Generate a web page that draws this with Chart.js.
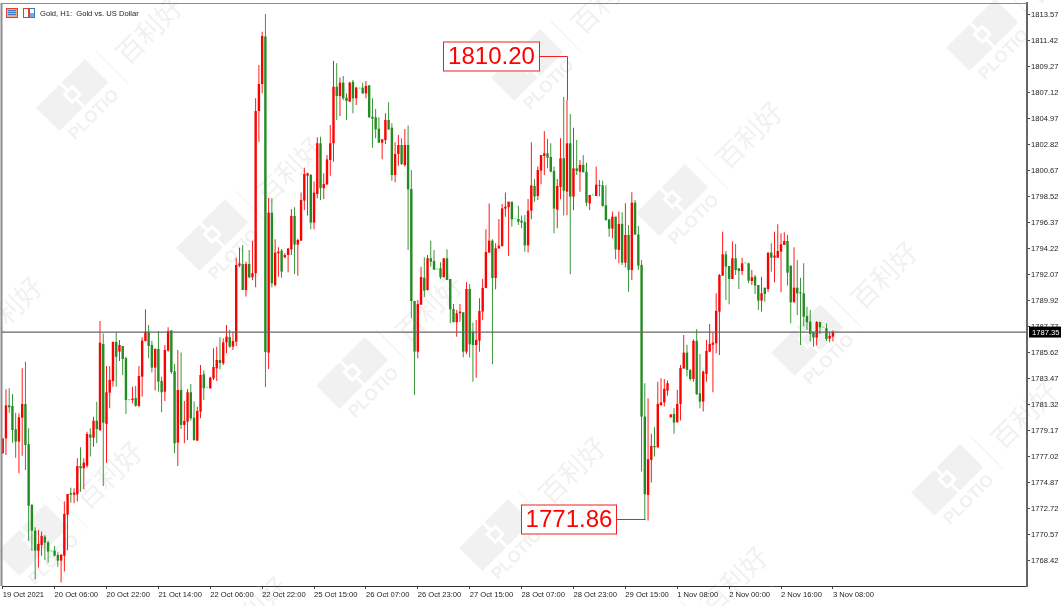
<!DOCTYPE html>
<html>
<head>
<meta charset="utf-8">
<title>Gold, H1</title>
<script src="https://cdn.jsdelivr.net/npm/chart.js@4"></script>
<style>
  html, body { margin: 0; padding: 0; background: #fff; }
  #wrap { width: 1061px; height: 606px; }
</style>
</head>
<body>
<div id="wrap"><canvas id="goldChart" width="1061" height="606"></canvas></div>
<script>
// hourly candles
const opens = [
  1777.32,1778.56,1781.29,1781.24,1779.31,1778.29,1780.27,1781.40,1778.07,1773.05,
  1770.93,1769.27,1769.74,1770.43,1769.96,1769.23,1769.27,1768.92,1768.45,1768.86,
  1772.25,1774.02,1773.90,1773.93,1776.27,1776.08,1776.30,1778.87,1778.62,1780.02,
  1779.25,1786.36,1779.75,1782.34,1783.30,1786.53,1785.73,1786.20,1785.18,1781.73,
  1781.73,1781.90,1781.24,1783.66,1786.61,1787.38,1786.28,1784.41,1785.95,1783.30,
  1782.42,1785.81,1787.47,1784.10,1778.21,1782.56,1779.67,1779.94,1782.37,1780.27,
  1778.37,1780.77,1783.86,1782.75,1782.70,1783.52,1784.35,1785.04,1784.77,1786.50,
  1786.94,1786.14,1786.56,1792.84,1792.98,1790.83,1792.98,1791.88,1792.21,1805.63,
  1807.86,1811.78,1785.65,1797.22,1791.24,1793.86,1794.08,1793.53,1793.72,1794.19,
  1796.95,1794.58,1794.91,1798.22,1800.28,1800.34,1796.40,1798.77,1802.96,1799.24,
  1799.57,1801.58,1802.96,1807.64,1806.87,1807.97,1806.73,1806.40,1808.05,1806.68,
  1807.48,1807.56,1807.09,1807.75,1805.16,1805.11,1804.17,1803.01,1803.23,1804.89,
  1804.25,1800.34,1802.07,1802.82,1801.16,1802.82,1799.18,1789.92,1785.73,1789.62,
  1791.85,1790.83,1793.45,1793.23,1792.54,1792.62,1791.88,1793.45,1791.74,1789.26,
  1788.16,1788.90,1788.98,1785.73,1790.91,1787.39,1786.28,1786.64,1789.04,1791.00,
  1793.92,1794.91,1791.82,1794.28,1794.47,1797.56,1797.67,1798.13,1796.70,1796.70,
  1796.56,1796.45,1794.52,1797.39,1799.43,1798.60,1800.70,1801.91,1802.13,1801.83,
  1800.67,1797.47,1799.35,1801.72,1798.96,1802.96,1798.55,1800.89,1800.61,1801.17,
  1800.61,1798.00,1798.66,1798.60,1799.51,1799.48,1797.83,1796.67,1795.90,1796.89,
  1794.14,1796.29,1793.09,1795.38,1792.48,1798.05,1795.41,1792.90,1780.36,1773.88,
  1776.78,1777.93,1777.82,1781.32,1781.54,1782.51,1780.30,1780.58,1779.89,1781.41,
  1784.33,1785.65,1784.22,1783.47,1786.62,1782.29,1781.60,1783.89,1785.73,1786.29,
  1786.42,1789.04,1792.01,1793.78,1792.81,1791.74,1793.45,1792.62,1792.40,1793.03,
  1793.03,1791.57,1791.93,1791.24,1789.95,1791.02,1790.91,1793.92,1793.50,1793.50,
  1794.00,1794.55,1794.88,1792.84,1789.81,1791.02,1790.63,1790.55,1788.68,1788.21,
  1787.33,1786.89,1788.18,1787.71,1787.66,1786.81,1786.97
];
const highs = [
  1778.56,1782.61,1782.70,1782.23,1780.68,1780.63,1784.35,1784.90,1779.39,1773.13,
  1771.20,1770.98,1770.85,1770.57,1770.10,1769.27,1769.66,1769.14,1769.00,1773.33,
  1773.96,1774.48,1774.43,1776.91,1777.82,1776.91,1779.11,1779.39,1780.35,1781.59,
  1788.26,1787.24,1784.54,1784.54,1786.56,1787.38,1786.69,1786.20,1785.31,1781.80,
  1782.83,1782.89,1784.54,1786.92,1789.23,1787.93,1786.64,1786.01,1787.44,1783.66,
  1786.28,1787.74,1787.52,1784.71,1785.87,1785.65,1781.65,1782.64,1783.06,1781.60,
  1781.18,1784.63,1784.16,1782.80,1783.66,1786.01,1786.14,1786.92,1786.83,1787.93,
  1787.52,1787.38,1793.50,1794.33,1794.55,1793.17,1794.14,1794.91,1806.68,1809.43,
  1812.19,1813.65,1798.44,1798.41,1795.02,1794.36,1794.22,1793.86,1794.30,1797.53,
  1797.66,1795.07,1798.90,1800.94,1800.53,1800.42,1799.79,1803.45,1803.51,1800.48,
  1801.99,1804.47,1809.79,1809.57,1808.39,1808.52,1807.09,1808.05,1808.19,1807.64,
  1807.52,1807.97,1808.11,1807.78,1806.68,1805.79,1805.11,1803.29,1805.44,1806.35,
  1804.61,1803.04,1803.64,1803.37,1804.14,1804.42,1800.75,1789.92,1790.00,1792.76,
  1793.53,1793.72,1794.91,1794.14,1792.57,1793.12,1793.45,1794.19,1791.74,1789.67,
  1789.18,1789.67,1788.98,1791.46,1791.33,1788.13,1788.35,1790.14,1791.74,1795.85,
  1797.98,1795.02,1794.69,1796.70,1797.94,1798.88,1798.13,1798.13,1796.73,1797.80,
  1796.98,1797.03,1798.35,1803.04,1800.01,1801.03,1801.99,1803.98,1803.32,1802.96,
  1801.03,1800.01,1803.37,1806.79,1806.54,1805.38,1804.25,1803.23,1801.58,1801.99,
  1801.36,1798.69,1798.69,1801.03,1799.93,1799.87,1799.48,1796.67,1797.31,1796.89,
  1797.31,1797.25,1798.00,1796.20,1798.91,1798.27,1796.12,1793.31,1783.12,1781.88,
  1778.93,1779.48,1783.25,1783.53,1783.47,1783.34,1780.58,1781.05,1782.57,1784.63,
  1787.11,1786.29,1784.27,1786.75,1787.58,1785.54,1784.16,1786.70,1788.02,1787.31,
  1790.56,1792.16,1795.65,1794.05,1792.81,1794.83,1794.63,1792.62,1793.50,1793.06,
  1793.09,1792.48,1792.07,1791.24,1791.93,1791.02,1793.92,1794.69,1795.65,1796.26,
  1795.51,1795.60,1795.38,1792.84,1794.36,1793.31,1791.85,1793.03,1789.45,1789.18,
  1787.38,1788.27,1788.21,1787.74,1788.07,1787.38,1787.47
];
const lows = [
  1777.27,1777.18,1780.68,1778.20,1776.96,1775.67,1777.13,1775.94,1770.10,1769.27,
  1766.90,1767.87,1768.86,1768.50,1768.28,1769.14,1768.78,1767.95,1766.63,1767.54,
  1769.33,1773.24,1773.19,1773.33,1774.15,1774.37,1776.14,1777.05,1777.87,1778.15,
  1779.17,1774.62,1776.55,1781.04,1782.83,1782.83,1784.96,1783.80,1780.57,1781.66,
  1781.46,1781.18,1781.13,1782.01,1786.56,1785.18,1784.00,1782.51,1782.42,1780.71,
  1781.65,1785.73,1783.88,1777.32,1776.28,1779.34,1778.15,1778.43,1780.03,1778.37,
  1778.37,1780.22,1781.73,1782.70,1782.67,1783.39,1783.30,1784.27,1784.63,1785.59,
  1786.06,1785.87,1786.20,1792.70,1790.83,1790.28,1791.79,1791.65,1791.05,1803.09,
  1807.09,1782.81,1784.30,1791.05,1791.11,1791.93,1791.85,1793.45,1792.29,1793.72,
  1792.15,1792.01,1794.91,1797.44,1796.98,1795.85,1795.85,1798.41,1798.27,1798.35,
  1799.51,1800.28,1801.44,1804.89,1805.22,1806.54,1804.89,1806.40,1805.44,1806.13,
  1807.44,1807.03,1806.68,1805.08,1802.60,1803.37,1803.01,1801.63,1802.90,1804.06,
  1799.87,1799.73,1801.11,1801.16,1801.03,1794.14,1788.49,1782.15,1785.18,1789.59,
  1790.22,1790.78,1792.76,1792.48,1792.51,1791.74,1791.88,1791.66,1788.07,1788.16,
  1786.97,1788.21,1785.26,1785.54,1785.24,1783.25,1783.58,1785.73,1788.35,1790.97,
  1793.92,1784.68,1790.89,1794.22,1794.41,1796.89,1793.64,1796.07,1796.67,1796.20,
  1795.93,1794.00,1793.92,1796.67,1798.13,1798.27,1799.57,1800.34,1800.89,1800.56,
  1795.52,1795.93,1798.33,1796.98,1797.00,1792.13,1797.45,1800.34,1798.96,1800.56,
  1797.78,1797.45,1798.63,1798.60,1798.55,1797.72,1796.56,1795.24,1795.10,1793.37,
  1793.04,1792.90,1792.68,1790.69,1791.66,1795.38,1792.48,1775.81,1771.87,1771.76,
  1774.90,1777.05,1777.74,1781.24,1781.19,1782.10,1780.28,1778.93,1779.86,1780.03,
  1784.33,1783.67,1783.34,1783.25,1782.15,1781.05,1780.77,1783.25,1785.68,1782.37,
  1785.60,1785.46,1792.01,1790.00,1789.64,1791.74,1792.07,1790.91,1792.07,1793.00,
  1791.38,1791.24,1790.50,1789.18,1789.04,1789.86,1790.69,1792.34,1791.46,1793.50,
  1790.64,1794.55,1791.19,1788.07,1789.81,1788.76,1786.28,1787.80,1787.52,1786.56,
  1786.14,1786.23,1787.19,1787.68,1786.61,1786.50,1786.56
];
const closes = [
  1778.56,1781.29,1781.13,1779.25,1778.29,1780.30,1781.40,1778.01,1772.99,1770.93,
  1769.27,1769.83,1770.49,1769.94,1769.19,1769.23,1768.86,1768.45,1768.92,1772.31,
  1773.96,1773.90,1774.07,1776.27,1776.08,1776.55,1778.92,1778.62,1780.02,1779.33,
  1786.47,1779.86,1782.37,1783.39,1786.53,1785.31,1786.28,1785.12,1781.73,1781.73,
  1781.84,1781.26,1783.72,1786.64,1787.38,1786.20,1784.41,1785.95,1783.25,1782.37,
  1785.87,1787.44,1784.05,1778.15,1782.56,1779.67,1780.00,1782.37,1780.22,1778.43,
  1780.83,1783.80,1782.70,1782.75,1783.58,1784.46,1785.04,1784.79,1786.50,1786.97,
  1786.14,1786.61,1792.90,1793.03,1790.83,1792.98,1791.88,1792.21,1805.63,1807.86,
  1811.83,1785.70,1797.22,1791.38,1793.92,1794.00,1792.35,1793.72,1794.25,1796.95,
  1794.58,1794.96,1798.27,1800.42,1800.48,1796.40,1798.88,1802.96,1799.24,1799.59,
  1801.63,1802.96,1807.64,1806.87,1807.97,1806.68,1806.46,1807.97,1806.68,1807.56,
  1807.48,1807.09,1807.70,1805.11,1804.99,1804.11,1803.01,1803.29,1804.89,1804.11,
  1800.34,1802.07,1802.82,1801.25,1802.82,1799.15,1789.92,1785.73,1789.67,1791.91,
  1790.78,1793.45,1793.17,1792.51,1792.54,1791.88,1793.45,1791.66,1789.23,1788.16,
  1788.90,1789.04,1785.73,1790.91,1786.34,1786.28,1786.70,1789.09,1791.00,1793.97,
  1794.91,1791.82,1794.28,1794.50,1797.58,1797.72,1798.13,1796.67,1796.70,1796.48,
  1796.40,1794.52,1797.39,1799.48,1798.55,1800.75,1801.99,1802.13,1801.77,1800.61,
  1797.56,1799.43,1801.72,1799.04,1802.96,1798.55,1800.89,1800.67,1801.17,1800.56,
  1798.05,1798.69,1798.66,1799.54,1799.43,1797.78,1796.62,1795.90,1796.89,1794.19,
  1796.29,1793.09,1795.38,1792.48,1798.05,1795.41,1792.84,1780.36,1773.94,1776.83,
  1777.93,1777.82,1781.41,1781.54,1782.65,1783.12,1780.53,1779.86,1781.41,1784.38,
  1785.65,1784.22,1783.47,1786.62,1782.21,1781.60,1784.08,1785.79,1786.37,1786.48,
  1789.10,1792.07,1793.78,1792.76,1791.74,1793.45,1792.48,1792.40,1793.03,1793.03,
  1791.60,1791.88,1791.19,1789.95,1790.55,1790.50,1793.92,1793.50,1793.67,1794.05,
  1794.60,1794.88,1792.26,1789.81,1791.02,1790.55,1790.55,1788.62,1788.16,1787.19,
  1786.89,1788.18,1787.74,1787.71,1786.78,1787.03,1787.38
];

// axis ticks
const xTickBars = [0,16,32,48,64,80,96,112,128,144,160,176,192,208,224,240,256];
const xTickLabels = ["19 Oct 2021","20 Oct 06:00","20 Oct 22:00","21 Oct 14:00","22 Oct 06:00","22 Oct 22:00",
  "25 Oct 15:00","26 Oct 07:00","26 Oct 23:00","27 Oct 15:00","28 Oct 07:00","28 Oct 23:00","29 Oct 15:00",
  "1 Nov 08:00","2 Nov 00:00","2 Nov 16:00","3 Nov 08:00"];
const yTicks = [1813.57,1811.42,1809.27,1807.12,1804.97,1802.82,1800.67,1798.52,1796.37,1794.22,1792.07,
  1789.92,1787.77,1785.62,1783.47,1781.32,1779.17,1777.02,1774.87,1772.72,1770.57,1768.42];

const lastPrice = 1787.35;
const highNote = 1810.20, highNoteBar = 174;
const lowNote = 1771.86, lowNoteBar = 198;

const UP = "#ff0000", DOWN = "#228b22", DOJI = "#66ff66";
const AXIS_FONT = { family: "'Liberation Sans', Arial, sans-serif", size: 7.6 };

function candleColor(i) {
  if (closes[i] > opens[i]) return UP;
  if (closes[i] < opens[i]) return DOWN;
  return DOJI;
}
const candleColors = opens.map((o, i) => candleColor(i));

// faint company marks behind the candles
function drawWatermarks(ctx) {
  const marks = [[75,100],[215,240],[355,378],[498,540],[530,70],[675,205],[810,345],[950,485],
    [985,40],[35,545],[-65,380],[660,650],[180,680],[-45,-30]];
  marks.forEach(function (m) {
    ctx.save();
    ctx.translate(m[0], m[1]);
    ctx.rotate(-Math.PI / 4);
    ctx.fillStyle = "#f1f1f1";
    ctx.fillRect(-33, -22, 33, 33);
    ctx.fillRect(3, -22, 33, 33);
    ctx.fillStyle = "#fff";
    ctx.fillRect(-5, -13, 14, 14);
    ctx.fillStyle = "#f1f1f1";
    ctx.fillRect(-2, -10, 8, 8);
    ctx.font = "bold 17px 'Liberation Sans', Arial, sans-serif";
    ctx.textAlign = "center";
    ctx.textBaseline = "middle";
    ctx.fillText("PLOTIO", 3, 24);
    ctx.strokeStyle = "#f1f1f1";
    ctx.lineWidth = 1;
    ctx.beginPath();
    ctx.moveTo(49, -20);
    ctx.lineTo(49, 26);
    ctx.stroke();
    ctx.font = "27px 'Noto Sans CJK SC', sans-serif";
    ctx.fillText("百利好", 102, 3);
    ctx.restore();
  });
}

function drawIcons(ctx) {
  ctx.fillStyle = "#f4a58a";
  ctx.fillRect(6, 8, 12, 10);
  ctx.strokeStyle = "#d9432f";
  ctx.lineWidth = 1;
  ctx.strokeRect(6.5, 8.5, 11, 9);
  ctx.fillStyle = "#3b78c4";
  ctx.fillRect(8, 10, 8, 1);
  ctx.fillRect(8, 12, 8, 1);
  ctx.fillRect(8, 14, 8, 1);
  ctx.fillStyle = "#fff";
  ctx.fillRect(23, 8, 12, 10);
  ctx.strokeStyle = "#d9432f";
  ctx.strokeRect(23.5, 8.5, 5, 9);
  ctx.strokeStyle = "#3b78c4";
  ctx.strokeRect(29.5, 8.5, 5, 9);
  ctx.fillStyle = "#7aa7dd";
  ctx.fillRect(30, 13, 4, 4);
}

// boxed price label with an elbow line running to its candle
function drawNote(ctx, text, left, right, boxY, x, y, endY) {
  ctx.strokeStyle = "#f02020";
  ctx.lineWidth = 1;
  ctx.beginPath();
  ctx.moveTo(right, y);
  ctx.lineTo(x, y);
  ctx.lineTo(x, endY);
  ctx.stroke();
  ctx.fillStyle = "#fff";
  ctx.fillRect(left, boxY - 15, right - left, 30);
  ctx.strokeRect(left + 0.5, boxY - 14.5, right - left - 1, 29);
  ctx.fillStyle = "#ff0000";
  ctx.font = "24px 'Liberation Sans', Arial, sans-serif";
  ctx.textAlign = "center";
  ctx.textBaseline = "middle";
  ctx.fillText(text, (left + right) / 2, boxY + 1);
}

const chartDecor = {
  id: "chartDecor",
  beforeDraw: function (chart) {
    const ctx = chart.ctx;
    ctx.save();
    drawWatermarks(ctx);
    ctx.restore();
  },
  afterDatasetsDraw: function (chart) {
    const ctx = chart.ctx, xs = chart.scales.x, ys = chart.scales.y, area = chart.chartArea;
    ctx.save();
    // frame
    ctx.strokeStyle = "#8c8c8c";
    ctx.lineWidth = 1;
    ctx.beginPath();
    ctx.moveTo(area.left, area.top + 0.5);
    ctx.lineTo(area.right, area.top + 0.5);
    ctx.stroke();
    ctx.lineWidth = 2;
    ctx.beginPath();
    ctx.moveTo(area.left - 0.5, area.top);
    ctx.lineTo(area.left - 0.5, area.bottom);
    ctx.stroke();
    // last price line and flag
    const py = ys.getPixelForValue(lastPrice);
    ctx.strokeStyle = "#666";
    ctx.lineWidth = 1.3;
    ctx.beginPath();
    ctx.moveTo(area.left, py);
    ctx.lineTo(area.right, py);
    ctx.stroke();
    ctx.fillStyle = "#000";
    ctx.fillRect(1029, py - 5.5, 32, 11);
    ctx.fillStyle = "#fff";
    ctx.font = "7.6px 'Liberation Sans', Arial, sans-serif";
    ctx.textAlign = "left";
    ctx.textBaseline = "middle";
    ctx.fillText(lastPrice.toFixed(2), 1032, py + 0.5);
    // title
    drawIcons(ctx);
    ctx.fillStyle = "#222";
    ctx.font = "7.6px 'Liberation Sans', Arial, sans-serif";
    ctx.fillText("Gold, H1:  Gold vs. US Dollar", 40, 14);
    // notes
    const hx = Math.round(xs.getPixelForValue(highNoteBar)) + 0.5;
    const hy = Math.round(ys.getPixelForValue(highNote)) + 0.5;
    drawNote(ctx, highNote.toFixed(2), 443, 540, hy, hx, hy, ys.getPixelForValue(highs[highNoteBar]));
    const lx = Math.round(xs.getPixelForValue(lowNoteBar)) + 0.5;
    const ly = Math.round(ys.getPixelForValue(lowNote)) + 0.5;
    drawNote(ctx, lowNote.toFixed(2), 521, 617, ly, lx, ly, ys.getPixelForValue(lows[lowNoteBar]));
    ctx.restore();
  }
};

const barIndexes = opens.map((o, i) => i);
const ctx = document.getElementById("goldChart").getContext("2d");
new Chart(ctx, {
  type: "bar",
  data: {
    datasets: [
      {
        label: "High-Low",
        data: barIndexes.map((i) => ({ x: i, y: [lows[i], highs[i]] })),
        backgroundColor: candleColors,
        barThickness: 0.9,
        grouped: false,
        inflateAmount: 0,
        order: 2
      },
      {
        label: "Open-Close",
        data: barIndexes.map((i) => ({ x: i, y: [opens[i], closes[i]] })),
        backgroundColor: candleColors,
        barThickness: 2.4,
        minBarLength: 1,
        grouped: false,
        inflateAmount: 0,
        order: 1
      }
    ]
  },
  options: {
    responsive: false,
    animation: false,
    layout: { padding: { left: 2, top: 3, right: 0, bottom: 0 } },
    plugins: { legend: { display: false }, tooltip: { enabled: false } },
    scales: {
      x: {
        type: "linear",
        offset: false,
        min: -0.22,
        max: 315.85,
        grid: { offset: false, drawOnChartArea: false, drawTicks: true, tickLength: 3, color: "#444" },
        border: { display: true, color: "#333", width: 1 },
        ticks: {
          align: "start",
          autoSkip: false,
          maxRotation: 0,
          minRotation: 0,
          padding: 1,
          color: "#222",
          font: AXIS_FONT,
          callback: function (v) { return xTickLabels[xTickBars.indexOf(v)]; }
        },
        afterBuildTicks: function (scale) {
          scale.ticks = xTickBars.map((v) => ({ value: v }));
        },
        afterFit: function (scale) {
          scale.height = 20;
          scale.paddingLeft = 0;
          scale.paddingRight = 0;
        }
      },
      y: {
        type: "linear",
        position: "right",
        min: 1766.35,
        max: 1814.56,
        grid: { drawOnChartArea: false, drawTicks: true, tickLength: 3, color: "#444" },
        border: { display: true, color: "#666", width: 2 },
        ticks: {
          autoSkip: false,
          padding: 1,
          color: "#222",
          font: AXIS_FONT,
          callback: function (v) { return v.toFixed(2); }
        },
        afterBuildTicks: function (scale) {
          scale.ticks = yTicks.map((v) => ({ value: v }));
        },
        afterFit: function (scale) {
          scale.width = 34;
          scale.paddingTop = 0;
          scale.paddingBottom = 0;
        }
      }
    }
  },
  plugins: [chartDecor]
});
</script>
</body>
</html>
